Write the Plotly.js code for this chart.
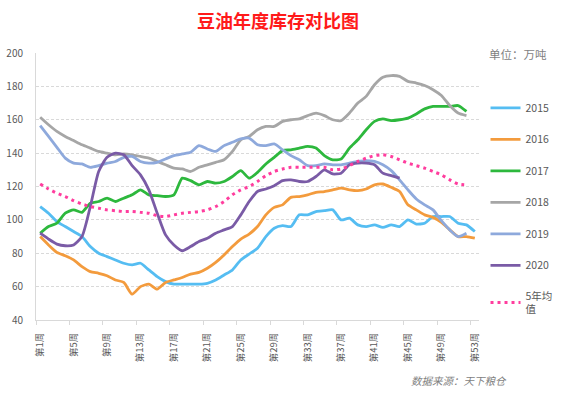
<!DOCTYPE html>
<html><head><meta charset="utf-8">
<script src="https://cdn.plot.ly/plotly-3.0.1.min.js"></script>
<style>html,body{margin:0;padding:0;background:#fff}#chart{width:565px;height:397px}</style>
</head><body><div id="chart"></div>
<script>
const weeks = [1,2,3,4,5,6,7,8,9,10,11,12,13,14,15,16,17,18,19,20,21,22,23,24,25,26,27,28,29,30,31,32,33,34,35,36,37,38,39,40,41,42,43,44,45,46,47,48,49,50,51,52,53];
const tickLabels = ["第1周","第5周","第9周","第13周","第17周","第21周","第25周","第29周","第33周","第37周","第41周","第45周","第49周","第53周"];
const tickPositions = [0.5,4.5,8.5,12.5,16.5,20.5,24.5,28.5,32.5,36.5,40.5,44.5,48.5,52.5];

const s2015 = [108,104,99,96,93,90,84,80,78,76,74,73,74,70,66,63,61.5,61.5,61.5,61.5,62,64,67,70,76,79.5,83,90,95,96.5,96,103,103,105,105.5,106,100,101,97,96,97,95.5,97,96,100,97.5,98,102,102,102,98,97,93];
const s2016 = [90,85,80.5,78.5,76,72,69,68,66.5,64,62.5,55.5,60,61.5,58.5,62.5,64,65.5,67.5,68.5,71,74.5,79,84,88.5,91.5,96,103,107.5,109,113.5,114,115,116.5,117,118,119,118,117.5,118.5,121,121.5,119.5,117,109,106,103,101.5,98.5,94,90,90,89];
const s2017 = [92,96,98,104,106,104.5,110,111,113,111,113,115,118,115,114.5,114,115,125,123.5,121,123,122,123,126,129.5,125,128.5,133.5,137.5,141.5,142,143,144,143,138.5,136,136.5,143,148,154,159,160.5,159.5,160,161,163.5,166.5,168,168,168,168.5,165];
const s2018 = [161.5,157,153,150,147.5,145,143,141,140,139,139.5,139,138,137,135,133,131,130.5,129,131.5,133,134.5,136,141,148,150,154,156,156,159,160,160.5,162.5,164,162.5,160,159.5,164,170,174,181,185.5,186.5,186,183,182,180.5,178,174.5,168.5,164,162.5];
const s2019 = [156.5,150,143.5,137,134,133.5,131.5,132.5,134,135,137.5,138,135,134,134.5,136.5,138.5,139.5,140.5,144.5,142.5,141,144.5,146.5,148.5,149,145,144.5,145.5,142,138.5,136,132.5,132.5,133.5,133,133,134,135,135.5,135,133,129.5,124,118,112.5,109,106,99.5,94,90,92];
const s2020 = [92,88.5,85.5,84.5,85,90,108,129,137.5,140,139,132.5,127,118,104,91,85,81.5,84,87,89,92,94,96,103,111,117,118.5,120.5,123.5,124,123,123,126,130,127.5,128,133,134,134,133,128,126.5,125];
const sAvg = [121.5,118.5,116,114,111.5,109.5,108,107,106,105.5,105,105,104.5,104,102.5,102,103,104,104.5,105,106,108,111,115,118,120,123,126.5,129,130.5,131.5,131.5,131.5,131.5,131.5,130,130.5,132.5,135,137,138.5,139,138,136,134,132.5,131,129,127,124,121.5,121];

const seriesNames = ["2015","2016","2017","2018","2019","2020","5年均<br>值"];
const seriesData = [s2015,s2016,s2017,s2018,s2019,s2020,sAvg];
const colors = ["#55BDF2","#F39B3D","#2DB83D","#A6A6A6","#8EA9DC","#7A5BA6","#FF3D9E"];

const traces = seriesData.map((d,i)=>({
  type:'scatter', mode:'lines',
  x: weeks.slice(0,d.length), y: d,
  name: seriesNames[i], legendgroup: 'g'+i,
  line: {color: colors[i], width: i===6?3:2.8, shape:'spline', smoothing:0.6,
         dash: i===6 ? '3px,4px' : 'solid'},
  hoverinfo:'skip'
}));

const font = "'Noto Sans CJK SC', 'Noto Sans', sans-serif";
const layout = {
  width:565, height:397,
  margin:{l:36, r:85.5, t:52.5, b:76.5, pad:0, autoexpand:false},
  paper_bgcolor:'#fff', plot_bgcolor:'#fff',
  font:{family:font, color:'#595959', size:10},
  title:{text:'<b>豆油年度库存对比图</b>', font:{family:font, size:18, color:'#FF1A1A'},
         x:0.492, xref:'container', xanchor:'center', y:0.945, yref:'container', yanchor:'middle'},
  xaxis:{range:[0.5,53.5], tickmode:'array', tickvals:tickPositions, ticktext:tickLabels,
         tickangle:-90, ticks:'outside', ticklen:4, tickcolor:'#d9d9d9',
         ticklabelshift:4, ticklabelstandoff:4, automargin:false,
         showline:true, linecolor:'#d9d9d9', linewidth:1, showgrid:false, zeroline:false,
         tickfont:{size:9.5, color:'#595959'}, fixedrange:true},
  yaxis:{range:[40,200], dtick:20, tick0:40, showline:true, linecolor:'#d9d9d9', linewidth:1,
         showgrid:true, gridcolor:'#d9d9d9', griddash:'3px,2px', gridwidth:1, zeroline:false,
         ticks:'', ticklabelstandoff:10, automargin:false, tickfont:{size:10, color:'#595959'}, fixedrange:true},
  legend:{x:1.0147, xanchor:'left', y:0.849, yanchor:'top', traceorder:'grouped', tracegroupgap:12.5,
          font:{size:10.5, color:'#595959'}, bgcolor:'rgba(0,0,0,0)', itemwidth:30},
  showlegend:true,
  annotations:[
    {text:'单位：万吨', xref:'paper', yref:'paper', x:1.087, y:0.998, xanchor:'center', yanchor:'middle',
     showarrow:false, font:{size:11.5, color:'#7f7f7f'}},
    {text:'<i>数据来源：天下粮仓</i>', xref:'paper', yref:'paper', x:0.955, y:-0.228, xanchor:'center', yanchor:'middle',
     showarrow:false, font:{size:10.5, color:'#7f7f7f'}}
  ]
};
Plotly.newPlot('chart', traces, layout, {displayModeBar:false, staticPlot:true});
</script></body></html>
